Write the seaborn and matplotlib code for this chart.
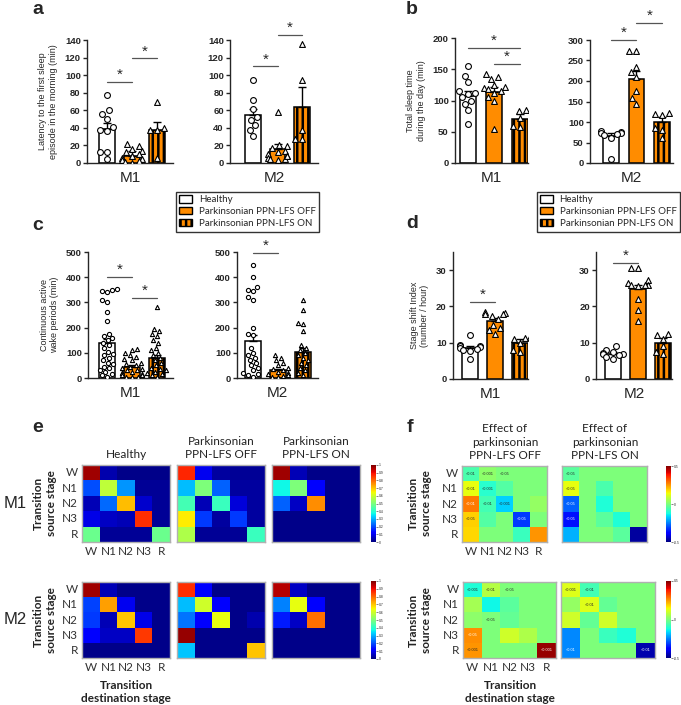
import warnings
import numpy as np
import seaborn as sns
import matplotlib.pyplot as plt
from matplotlib.patches import Patch

warnings.filterwarnings("ignore")

sns.set_style("ticks")
plt.rcParams["font.family"] = ["Liberation Sans", "DejaVu Sans"]
plt.rcParams["hatch.linewidth"] = 1.8
plt.rcParams["hatch.color"] = "black"

ORANGE = "#ff8c00"
MARKERS = ["o", "^", "^"]
groups = ["Healthy", "Parkinsonian PPN-LFS OFF", "Parkinsonian PPN-LFS ON"]
stages = ["W", "N1", "N2", "N3", "R"]

# ---- a: latency to first sleep episode (min) ----
a_m1_pts = [[77, 60, 56, 50, 41, 38, 36, 13, 4, 12],
            [22, 19, 16, 14, 12, 10, 8, 6, 4, 3, 2, 1, 0],
            [70, 40, 38, 37, 6]]
a_m1_mean = [39, 8.5, 37]
a_m1_sem = [6, 5, 10]
a_m2_pts = [[94, 72, 62, 52, 49, 43, 38, 31],
            [58, 20, 19, 17, 14, 10, 8, 6, 5, 4, 3, 12, 8],
            [136, 95, 37, 27, 27]]
a_m2_mean = [55, 16, 64]
a_m2_sem = [7, 6, 23]

# ---- b: total sleep time during the day (min) ----
b_m1_pts = [[155, 140, 130, 115, 112, 110, 105, 100, 95, 85, 63],
            [143, 138, 135, 125, 122, 120, 118, 115, 112, 105, 100, 55],
            [85, 83, 72, 60, 57]]
b_m1_mean = [107, 113, 71]
b_m1_sem = [8, 8, 7]
b_m2_pts = [[78, 76, 74, 72, 70, 68, 62, 10],
            [272, 274, 235, 222, 210, 175, 158, 145],
            [120, 122, 118, 85, 80, 62]]
b_m2_mean = [65, 205, 100]
b_m2_sem = [7, 20, 13]

# ---- c: continuous active wake periods (min) ----
c_m1_pts = [[355, 350, 345, 340, 310, 300, 260, 225, 175, 165, 160, 150, 140, 130, 120,
             105, 95, 90, 80, 70, 60, 55, 45, 40, 30, 25, 15, 10, 5],
            [115, 110, 100, 90, 85, 75, 70, 60, 55, 50, 45, 40, 35, 30, 30, 25, 20, 20,
             15, 10, 10, 5, 5, 3],
            [280, 195, 185, 175, 165, 150, 140, 120, 110, 100, 90, 80, 70, 60, 50, 40,
             35, 30, 25, 20, 15, 10, 5]]
c_m1_mean = [137, 45, 80]
c_m1_sem = [18, 6, 12]
c_m2_pts = [[450, 400, 360, 350, 345, 320, 310, 200, 175, 170, 120, 100, 90, 80, 70, 60,
             50, 40, 30, 20, 15, 10, 5],
            [90, 80, 70, 60, 50, 40, 35, 30, 25, 20, 15, 10, 8, 5, 3],
            [310, 270, 220, 215, 185, 130, 120, 110, 100, 90, 80, 70, 60, 50, 40, 30, 20, 10]]
c_m2_mean = [147, 30, 103]
c_m2_sem = [25, 7, 15]

# ---- d: stage shift index (number / hour) ----
d_m1_pts = [[12, 9.5, 9.2, 9, 8.8, 8.5, 8.2, 8, 7.8, 5.5],
            [18.5, 18.2, 18, 17.8, 17.5, 16.5, 15, 14, 13.5, 12.5],
            [11.5, 11.3, 11, 9.8, 8, 7.5]]
d_m1_mean = [8.5, 16, 10]
d_m1_sem = [0.6, 0.9, 0.9]
d_m2_pts = [[9.2, 8, 7.5, 7.2, 7, 6.8, 6.5, 6, 5.5],
            [30.5, 30.5, 27.2, 26.5, 26, 25.8, 26, 25.5, 22, 19, 16],
            [12.5, 12, 11, 9, 7.5, 7]]
d_m2_mean = [7, 24.7, 10]
d_m2_sem = [0.5, 1.3, 1.3]

# significance bars: (group i, group j, height)
a_m1_sig = [(0, 1, 92), (1, 2, 119)]
a_m2_sig = [(0, 1, 110), (1, 2, 146)]
b_m1_sig = [(0, 2, 184), (1, 2, 158)]
b_m2_sig = [(0, 1, 300), (1, 2, 341)]
c_m1_sig = [(0, 1, 400), (1, 2, 318)]
c_m2_sig = [(0, 1, 497)]
d_m1_sig = [(0, 1, 21.2)]
d_m2_sig = [(0, 1, 32)]

# ---- e: transition probability matrices (rows = source, cols = destination) ----
e_m1_healthy = [[0.97, 0.04, 0.01, 0.01, 0.01],
                [0.20, 0.58, 0.27, 0.02, 0.02],
                [0.05, 0.23, 0.71, 0.07, 0.02],
                [0.09, 0.06, 0.05, 0.86, 0.02],
                [0.48, 0.02, 0.02, 0.02, 0.48]]
e_m1_off = [[0.87, 0.10, 0.03, 0.02, 0.02],
            [0.31, 0.50, 0.22, 0.03, 0.03],
            [0.43, 0.05, 0.42, 0.08, 0.03],
            [0.66, 0.18, 0.03, 0.18, 0.03],
            [0.56, 0.02, 0.02, 0.02, 0.42]]
e_m1_on = [[0.97, 0.05, 0.01, 0.01, 0.01],
           [0.37, 0.50, 0.12, 0.01, 0.01],
           [0.22, 0.06, 0.76, 0.01, 0.01],
           [0.01, 0.01, 0.01, 0.01, 0.01],
           [0.01, 0.01, 0.01, 0.01, 0.01]]
e_m2_healthy = [[0.97, 0.05, 0.01, 0.01, 0.01],
                [0.19, 0.74, 0.10, 0.01, 0.01],
                [0.18, 0.05, 0.70, 0.09, 0.01],
                [0.12, 0.06, 0.06, 0.85, 0.01],
                [0.01, 0.01, 0.01, 0.01, 0.01]]
e_m2_off = [[0.86, 0.12, 0.01, 0.01, 0.01],
            [0.31, 0.60, 0.12, 0.01, 0.01],
            [0.24, 0.12, 0.63, 0.01, 0.04],
            [0.98, 0.01, 0.01, 0.01, 0.01],
            [0.32, 0.01, 0.01, 0.01, 0.70]]
e_m2_on = [[0.95, 0.06, 0.01, 0.01, 0.01],
           [0.25, 0.63, 0.12, 0.01, 0.01],
           [0.15, 0.06, 0.79, 0.01, 0.01],
           [0.01, 0.01, 0.01, 0.01, 0.01],
           [0.01, 0.01, 0.01, 0.01, 0.01]]

# ---- f: difference vs healthy, with p values ----
f_m1_off = [[-0.06, 0.02, 0.0, 0.0, 0.0],
            [0.13, -0.10, -0.05, 0.0, 0.0],
            [0.28, -0.07, -0.17, 0.0, 0.03],
            [0.19, -0.05, 0.0, -0.32, 0.0],
            [0.18, 0.0, 0.0, -0.08, 0.25]]
f_m1_on = [[-0.04, 0.0, 0.0, 0.0, 0.0],
           [0.13, 0.0, -0.06, 0.0, 0.0],
           [-0.28, 0.0, -0.11, 0.0, 0.0],
           [-0.36, 0.0, -0.04, -0.11, 0.0],
           [-0.20, 0.0, 0.0, -0.04, -0.47]]
f_m2_off = [[-0.11, 0.07, 0.0, 0.0, 0.0],
            [0.05, -0.13, -0.04, 0.0, 0.0],
            [0.02, 0.0, -0.03, 0.0, 0.0],
            [0.26, 0.0, 0.10, 0.06, 0.0],
            [0.25, 0.0, 0.0, 0.0, 0.48]]
f_m2_on = [[0.12, -0.07, 0.0, 0.0, 0.0],
           [0.03, 0.12, -0.03, 0.0, 0.0],
           [0.10, -0.03, 0.10, 0.0, 0.0],
           [-0.24, 0.0, -0.08, -0.11, 0.0],
           [-0.24, 0.0, 0.0, 0.0, -0.46]]
f_m1_off_p = [["<0.01", "<0.001", "<0.05", "", ""],
              ["<0.01", "<0.001", "", "", ""],
              ["<0.01", "<0.01", "<0.001", "", ""],
              ["<0.05", "", "", "<0.05", ""],
              ["", "", "", "", ""]]
f_m1_on_p = [["<0.05", "", "", "", ""],
             ["<0.05", "", "", "", ""],
             ["<0.05", "", "", "", ""],
             ["<0.05", "", "", "", ""],
             ["", "", "", "", ""]]
f_m2_off_p = [["<0.001", "<0.01", "<0.05", "", ""],
              ["", "", "", "", ""],
              ["", "<0.05", "", "", ""],
              ["<0.05", "", "", "", ""],
              ["<0.001", "", "", "", "<0.001"]]
f_m2_on_p = [["<0.001", "<0.01", "", "", ""],
             ["", "<0.01", "", "", ""],
             ["", "", "", "", ""],
             ["", "", "", "", ""],
             ["<0.01", "", "", "", "<0.01"]]

W, H = 681, 705
fig = plt.figure(figsize=(W / 100, H / 100), dpi=100)


def rect(l, t, r, b):
    return [l / W, 1 - b / H, (r - l) / W, (b - t) / H]


def ftext(x, y, s, **kw):
    kw.setdefault("ha", "center")
    kw.setdefault("va", "center")
    fig.text(x / W, 1 - y / H, s, **kw)


def bar_panel(box, xlim, ylim, yticks, pts, means, sems, sig, ylabel, name, msize=4.2):
    ax = fig.add_axes(rect(*box))
    idx = [0, 1, 2]
    sns.barplot(x=idx, y=means, hue=idx, palette={0: "white", 1: ORANGE, 2: ORANGE},
                saturation=1, width=0.62, edgecolor="black", linewidth=1.1, legend=False,
                ax=ax, zorder=1)
    for p in ax.patches:
        if abs(p.get_x() + p.get_width() / 2 - 2) < 0.2:
            p.set_hatch("|||")
            p.set_edgecolor("black")
    ax.errorbar(idx, means, yerr=[np.zeros(3), sems], fmt="none", ecolor="black",
                elinewidth=1, capsize=3, capthick=1, zorder=2)
    for i, vals in enumerate(pts):
        sns.swarmplot(x=[i] * len(vals), y=vals, order=idx, marker=MARKERS[i], color="white",
                      edgecolor="black", linewidth=0.8, size=msize, ax=ax, zorder=3)
    ax.set_xlim(*xlim)
    ax.set_ylim(*ylim)
    ax.set_yticks(yticks)
    ax.set_xticks([])
    ax.set_xlabel(name, fontsize=11, labelpad=6)
    ax.set_ylabel(ylabel, fontsize=6.5, labelpad=5)
    sns.despine(ax=ax)
    ax.tick_params(axis="y", labelsize=6.8, length=3, width=1, pad=1.5)
    for t in ax.get_yticklabels():
        t.set_fontweight("bold")
    for s in ax.spines.values():
        s.set_linewidth(1)
    for i, j, y in sig:
        ax.plot([i, j], [y, y], color="#555555", lw=0.9, clip_on=False)
        ax.text((i + j) / 2, y, "*", ha="center", va="bottom", fontsize=11, clip_on=False)
    return ax


bar_panel((87, 40, 173, 163), (-0.8, 2.64), (0, 140), range(0, 141, 20), a_m1_pts, a_m1_mean,
          a_m1_sem, a_m1_sig, "Latency to the first sleep\nepisode in the morning (min)", "M1")
bar_panel((230, 40, 318, 163), (-0.94, 2.65), (0, 140), range(0, 141, 20), a_m2_pts, a_m2_mean,
          a_m2_sem, a_m2_sig, "", "M2")
bar_panel((455, 38, 528, 163), (-0.5, 2.3), (0, 200), range(0, 201, 50), b_m1_pts, b_m1_mean,
          b_m1_sem, b_m1_sig, "Total sleep time\nduring the day (min)", "M1")
bar_panel((590, 40, 673, 163), (-0.82, 2.43), (0, 300), range(0, 301, 50), b_m2_pts, b_m2_mean,
          b_m2_sem, b_m2_sig, "", "M2")
bar_panel((88, 252, 173, 378), (-0.76, 2.64), (0, 500), range(0, 501, 100), c_m1_pts, c_m1_mean,
          c_m1_sem, c_m1_sig, "Continuous active\nwake periods (min)", "M1", msize=3)
bar_panel((237, 252, 318, 378), (-0.64, 2.6), (0, 500), range(0, 501, 100), c_m2_pts, c_m2_mean,
          c_m2_sem, c_m2_sig, "", "M2", msize=3)
bar_panel((453, 252, 528, 379), (-0.68, 2.32), (0, 35), [0, 10, 20, 30], d_m1_pts, d_m1_mean,
          d_m1_sem, d_m1_sig, "Stage shift Index\n(number / hour)", "M1")
bar_panel((596, 252, 672, 379), (-0.68, 2.36), (0, 35), [0, 10, 20, 30], d_m2_pts, d_m2_mean,
          d_m2_sem, d_m2_sig, "", "M2")

# legends
handles = [Patch(facecolor="white", edgecolor="black"),
           Patch(facecolor=ORANGE, edgecolor="black"),
           Patch(facecolor=ORANGE, edgecolor="black", hatch="|||")]
for anchor, loc in (((176, 192), "upper left"), ((680, 192), "upper right")):
    leg = fig.legend(handles, groups, loc=loc,
                     bbox_to_anchor=(anchor[0] / W, 1 - anchor[1] / H),
                     frameon=True, fancybox=False, edgecolor="black",
                     handlelength=1.3, handleheight=0.75, handletextpad=0.7, labelspacing=0.3,
                     borderpad=0.35, borderaxespad=0, prop={"family": "Lato", "size": 7})
    leg.get_frame().set_linewidth(1)


def heat(box, mat, vmin, vmax, ylab=False, xlab=False, annot=None, cbox=None, cticks=None):
    ax = fig.add_axes(rect(*box))
    cax = fig.add_axes(rect(*cbox)) if cbox else None
    sns.heatmap(np.array(mat), cmap="jet", vmin=vmin, vmax=vmax, ax=ax,
                cbar=cbox is not None, cbar_ax=cax,
                xticklabels=stages if xlab else False, yticklabels=stages if ylab else False,
                annot=np.array(annot) if annot is not None else False, fmt="",
                annot_kws={"fontsize": 2.8})
    for s in ax.spines.values():
        s.set_visible(True)
        s.set_color("#b0b0b0")
        s.set_linewidth(1)
    ax.tick_params(length=0, labelsize=8.5, labelcolor="#333333", pad=3)
    for t in ax.get_xticklabels() + ax.get_yticklabels():
        t.set_fontfamily("Lato")
        t.set_rotation(0)
    if cax is not None:
        cax.set_yticks(cticks)
        cax.set_yticklabels([f"{v:g}" for v in cticks])
        cax.tick_params(labelsize=2.4, length=1.5, width=0.4, pad=0.8)
    return ax


e_cticks = [round(v, 1) for v in np.arange(0, 1.01, 0.1)]
f_cticks = [-0.5, 0, 0.5]

heat((82, 465, 170, 542), e_m1_healthy, 0, 1, ylab=True, xlab=True)
heat((177, 465, 265, 542), e_m1_off, 0, 1)
heat((272, 465, 360, 542), e_m1_on, 0, 1, cbox=(371, 465, 376, 542), cticks=e_cticks)
heat((82, 582, 170, 658), e_m2_healthy, 0, 1, ylab=True, xlab=True)
heat((177, 582, 265, 658), e_m2_off, 0, 1)
heat((272, 582, 360, 658), e_m2_on, 0, 1, cbox=(371, 581, 376, 659), cticks=e_cticks)

heat((462, 466, 547, 542), f_m1_off, -0.5, 0.5, ylab=True, xlab=True, annot=f_m1_off_p)
heat((562, 466, 647, 542), f_m1_on, -0.5, 0.5, annot=f_m1_on_p,
     cbox=(666, 466, 671, 542), cticks=f_cticks)
heat((463, 582, 556, 658), f_m2_off, -0.5, 0.5, ylab=True, xlab=True, annot=f_m2_off_p)
heat((561, 582, 655, 658), f_m2_on, -0.5, 0.5, annot=f_m2_on_p,
     cbox=(666, 581, 671, 658), cticks=f_cticks)

# heatmap titles and labels
hk = dict(family="Lato", fontsize=8.5, color="#222222", linespacing=1.3)
ftext(126, 455, "Healthy", **hk)
ftext(221, 448, "Parkinsonian\nPPN-LFS OFF", **hk)
ftext(316, 448, "Parkinsonian\nPPN-LFS ON", **hk)
ftext(505, 442, "Effect of\nparkinsonian\nPPN-LFS OFF", **hk)
ftext(605, 442, "Effect of\nparkinsonian\nPPN-LFS ON", **hk)

bk = dict(family="Lato", fontsize=8.5, fontweight="bold", color="#222222", linespacing=1.2)
for x in (45, 420):
    ftext(x, 503, "Transition\nsource stage", rotation=90, **bk)
    ftext(x, 620, "Transition\nsource stage", rotation=90, **bk)
ftext(126, 692, "Transition\ndestination stage", **bk)
ftext(510, 692, "Transition\ndestination stage", **bk)
ftext(15, 503, "M1", fontsize=12)
ftext(15, 620, "M2", fontsize=12)

# panel letters
for (x, y), s in zip([(38, 9), (412, 9), (38, 226), (412, 224), (38, 428), (410, 428)], "abcdef"):
    ftext(x, y, s, fontsize=14, fontweight="bold")

fig.savefig("out.png", dpi=100)
